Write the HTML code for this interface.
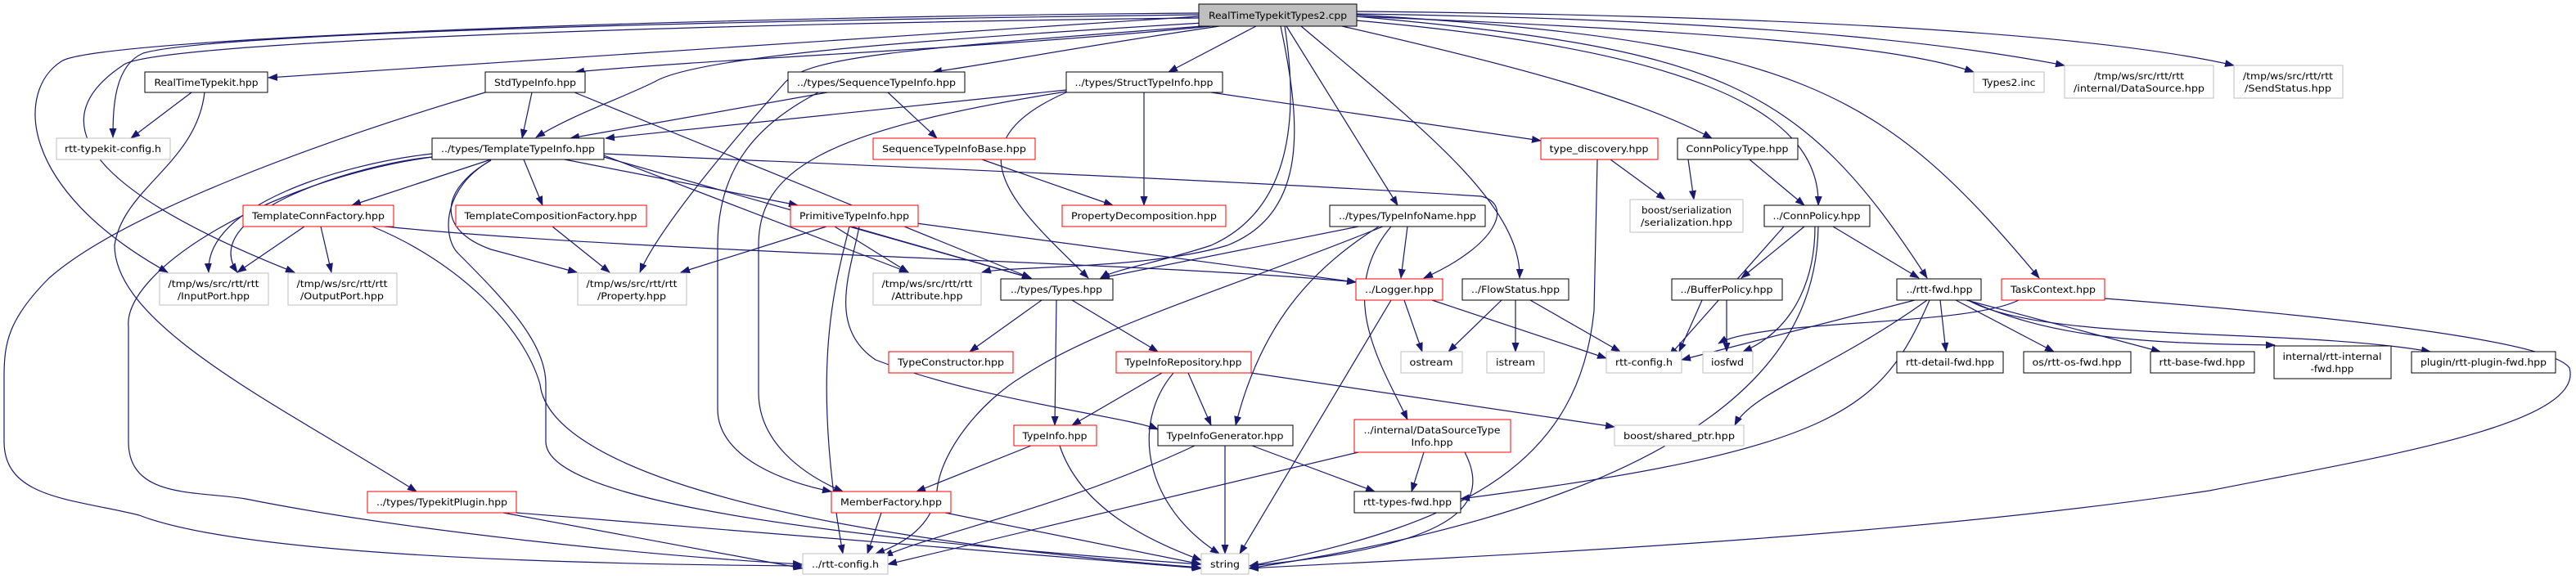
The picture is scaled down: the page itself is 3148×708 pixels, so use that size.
<!DOCTYPE html>
<html><head><meta charset="utf-8"><style>
html,body{margin:0;padding:0;background:#fff;width:3148px;height:708px;overflow:hidden}
svg{display:block}
text{font-family:"DejaVu Sans","Liberation Sans",sans-serif;font-size:11.5px;fill:#000}
.e{fill:none;stroke:#191970;stroke-width:1.2}
.b{fill:#fff;stroke:#000;stroke-width:1}
.r{fill:#fff;stroke:#ff0000;stroke-width:1}
.g{fill:#fff;stroke:#bfbfbf;stroke-width:1}
</style></head><body>
<svg width="3148" height="708" viewBox="0 0 3148 708" xmlns="http://www.w3.org/2000/svg">
<defs><marker id="a" markerWidth="12" markerHeight="9" refX="11" refY="4.5" orient="auto" markerUnits="userSpaceOnUse"><path d="M0,0 L12,4.5 L0,9 z" fill="#191970"/></marker></defs>
<g class="e" marker-end="url(#a)">
<path d="M1465,20 C1000,50 600,80 328,95"/>
<path d="M1480,32 C1200,60 900,70 703,88"/>
<path d="M1465,18 C900,25 260,40 175,65 C140,80 138,130 138,168"/>
<path d="M1470,28 C1100,50 850,70 800,100 C760,120 700,140 655,168"/>
<path d="M1465,16 C900,20 120,45 75,75 C20,110 20,230 205,333"/>
<path d="M1465,22 C900,28 180,50 150,80 C30,160 150,250 360,333"/>
<path d="M1490,32 C1300,60 1200,80 1140,88"/>
<path d="M1535,32 L1428,88"/>
<path d="M1470,32 C1100,60 990,70 960,100 C870,200 800,290 782,333"/>
<path d="M1565,32 C1590,150 1600,260 1500,300 C1400,330 1230,325 1200,333"/>
<path d="M1570,32 C1590,160 1570,260 1480,300 C1420,320 1360,330 1345,340"/>
<path d="M1572,32 L1708,251"/>
<path d="M1590,32 C1730,150 1860,250 1857,340"/>
<path d="M1640,32 C1850,80 2000,120 2092,169"/>
<path d="M1657,25 C2050,60 2225,130 2222,251"/>
<path d="M1657,20 C2100,60 2200,100 2355,340"/>
<path d="M1657,18 C2200,50 2300,110 2492,340"/>
<path d="M1657,20 C2150,40 2330,60 2412,88"/>
<path d="M1657,17 C2200,25 2420,60 2523,80"/>
<path d="M1657,14 C2300,20 2600,50 2730,80"/>
<path d="M234,113 L160,169"/>
<path d="M250,113 C240,200 150,230 140,300 C140,400 350,500 509,601"/>
<path d="M650,113 L638,169"/>
<path d="M702,113 L1260,340"/>
<path d="M593,113 C400,170 150,260 60,340 C10,390 5,420 5,460 L5,540 C5,610 90,610 170,630 C300,680 700,690 980,692"/>
<path d="M528,188 C420,200 250,250 255,333"/>
<path d="M528,192 C440,200 240,260 290,333"/>
<path d="M528,192 C330,220 150,330 157,400 L157,540 C157,610 240,600 300,610 C500,650 800,680 980,690"/>
<path d="M600,195 L430,251"/>
<path d="M640,195 L663,251"/>
<path d="M600,196 C540,230 540,290 560,310 C620,370 667,420 667,470 L667,540 C667,600 900,650 1467,690"/>
<path d="M600,196 C540,230 530,280 600,305 L705,333"/>
<path d="M690,195 L975,251"/>
<path d="M738,192 L1260,340"/>
<path d="M738,190 L1110,333"/>
<path d="M738,188 C1000,200 1500,220 1810,240 C1850,250 1830,300 1740,340"/>
<path d="M1011,113 L697,169"/>
<path d="M1085,113 L1145,169"/>
<path d="M1000,113 C930,150 877,200 877,300 L877,500 C877,560 960,590 1016,601"/>
<path d="M1303,110 L740,169"/>
<path d="M1398,113 L1398,251"/>
<path d="M1480,113 L1883,172"/>
<path d="M1303,112 C1000,160 927,210 927,300 L927,480 C927,540 980,580 1030,601"/>
<path d="M1303,113 C1150,180 1250,260 1330,340"/>
<path d="M1200,195 L1360,251"/>
<path d="M1968,195 L2035,244"/>
<path d="M1952,195 L1948,380 C1930,560 1800,640 1527,692"/>
<path d="M2063,195 L2070,244"/>
<path d="M2138,195 L2205,251"/>
<path d="M372,277 L290,333"/>
<path d="M392,277 L405,333"/>
<path d="M470,277 C800,310 1400,320 1657,345"/>
<path d="M455,277 C560,320 640,400 660,470 C670,560 900,650 1467,694"/>
<path d="M675,277 L745,333"/>
<path d="M1010,277 L832,333"/>
<path d="M1020,277 L1110,333"/>
<path d="M1040,277 L1260,340"/>
<path d="M1120,273 L1657,345"/>
<path d="M1038,277 C1020,350 990,450 1030,677"/>
<path d="M1050,277 C1040,330 1010,400 1070,440 C1200,490 1380,510 1415,525"/>
<path d="M1660,277 L1345,340"/>
<path d="M1720,277 L1712,340"/>
<path d="M1685,277 C1600,330 1540,400 1510,520"/>
<path d="M1700,277 C1630,360 1690,450 1720,513"/>
<path d="M1690,277 C1510,350 1340,400 1250,460 C1200,490 1150,550 1145,600 C1140,650 1090,670 1070,677"/>
<path d="M1273,367 L1185,430"/>
<path d="M1291,367 L1289,520"/>
<path d="M1310,367 L1415,430"/>
<path d="M1716,367 L1738,430"/>
<path d="M1750,367 L1963,438"/>
<path d="M1700,367 L1515,677"/>
<path d="M1835,367 L1770,430"/>
<path d="M1852,367 L1852,430"/>
<path d="M1870,367 L1980,430"/>
<path d="M2180,277 L2040,435"/>
<path d="M2205,277 L2128,340"/>
<path d="M2218,277 C2218,330 2200,400 2130,430"/>
<path d="M2240,277 L2345,340"/>
<path d="M2222,277 C2220,400 2150,600 1526,695"/>
<path d="M2080,367 L2052,430"/>
<path d="M2110,367 L2110,430"/>
<path d="M2340,367 L2055,440"/>
<path d="M2355,367 C2240,450 2140,480 2120,520"/>
<path d="M2358,367 C2300,500 2250,550 1785,610"/>
<path d="M2371,367 L2378,430"/>
<path d="M2390,367 L2510,430"/>
<path d="M2403,367 L2640,430"/>
<path d="M2405,367 C2500,410 2600,420 2780,422"/>
<path d="M2405,367 C2500,420 2800,400 2970,430"/>
<path d="M2467,367 C2400,400 2150,390 2100,420"/>
<path d="M2572,365 C2900,390 3120,420 3140,450 C3160,520 2900,560 2700,600 C2300,660 1800,680 1527,695"/>
<path d="M1420,456 L1310,520"/>
<path d="M1452,456 L1480,520"/>
<path d="M1434,456 C1380,520 1400,620 1490,677"/>
<path d="M1529,456 L1973,522"/>
<path d="M1260,545 L1120,601"/>
<path d="M1295,545 C1320,620 1400,660 1468,685"/>
<path d="M1460,545 C1300,620 1150,650 1080,680"/>
<path d="M1497,545 L1497,677"/>
<path d="M1530,545 L1680,601"/>
<path d="M1740,553 L1725,601"/>
<path d="M1660,553 L1085,690"/>
<path d="M1790,553 C1830,630 1750,670 1527,692"/>
<path d="M1077,627 L1060,677"/>
<path d="M1155,627 L1468,690"/>
<path d="M615,627 L981,695"/>
<path d="M631,627 L1468,695"/>
</g>
<g>
<rect class="b" x="1465" y="5" width="193" height="27" style="fill:#bfbfbf"/>
<text x="1561.5" y="23" text-anchor="middle" textLength="169" lengthAdjust="spacingAndGlyphs">RealTimeTypekitTypes2.cpp</text>
<rect class="b" x="177" y="88" width="150" height="25"/><text x="252" y="105" text-anchor="middle" textLength="127" lengthAdjust="spacingAndGlyphs">RealTimeTypekit.hpp</text>
<rect class="b" x="593" y="88" width="122" height="25"/><text x="654" y="105" text-anchor="middle" textLength="100" lengthAdjust="spacingAndGlyphs">StdTypeInfo.hpp</text>
<rect class="b" x="963" y="88" width="216" height="25"/><text x="1071" y="105" text-anchor="middle" textLength="194" lengthAdjust="spacingAndGlyphs">../types/SequenceTypeInfo.hpp</text>
<rect class="b" x="1303" y="88" width="191" height="25"/><text x="1398" y="105" text-anchor="middle" textLength="169" lengthAdjust="spacingAndGlyphs">../types/StructTypeInfo.hpp</text>
<rect class="g" x="2412" y="88" width="86" height="25"/><text x="2455" y="105" text-anchor="middle" textLength="65" lengthAdjust="spacingAndGlyphs">Types2.inc</text>
<rect class="g" x="2523" y="80" width="182" height="40"/><text x="2614" y="97" text-anchor="middle" textLength="110" lengthAdjust="spacingAndGlyphs">/tmp/ws/src/rtt/rtt</text><text x="2614" y="112" text-anchor="middle" textLength="160" lengthAdjust="spacingAndGlyphs">/internal/DataSource.hpp</text>
<rect class="g" x="2730" y="80" width="133" height="40"/><text x="2796" y="97" text-anchor="middle" textLength="110" lengthAdjust="spacingAndGlyphs">/tmp/ws/src/rtt/rtt</text><text x="2796" y="112" text-anchor="middle" textLength="106" lengthAdjust="spacingAndGlyphs">/SendStatus.hpp</text>
<rect class="g" x="69" y="169" width="139" height="26"/><text x="138" y="186" text-anchor="middle" textLength="118" lengthAdjust="spacingAndGlyphs">rtt-typekit-config.h</text>
<rect class="b" x="528" y="169" width="210" height="26"/><text x="633" y="186" text-anchor="middle" textLength="188" lengthAdjust="spacingAndGlyphs">../types/TemplateTypeInfo.hpp</text>
<rect class="r" x="1067" y="169" width="198" height="26"/><text x="1166" y="186" text-anchor="middle" textLength="176" lengthAdjust="spacingAndGlyphs">SequenceTypeInfoBase.hpp</text>
<rect class="r" x="1883" y="169" width="143" height="26"/><text x="1954" y="186" text-anchor="middle" textLength="121" lengthAdjust="spacingAndGlyphs">type_discovery.hpp</text>
<rect class="b" x="2050" y="169" width="147" height="26"/><text x="2123" y="186" text-anchor="middle" textLength="125" lengthAdjust="spacingAndGlyphs">ConnPolicyType.hpp</text>
<rect class="g" x="1992" y="244" width="138" height="40"/><text x="2061" y="261" text-anchor="middle" textLength="110" lengthAdjust="spacingAndGlyphs">boost/serialization</text><text x="2061" y="276" text-anchor="middle" textLength="112" lengthAdjust="spacingAndGlyphs">/serialization.hpp</text>
<rect class="r" x="297" y="251" width="184" height="26"/><text x="389" y="268" text-anchor="middle" textLength="162" lengthAdjust="spacingAndGlyphs">TemplateConnFactory.hpp</text>
<rect class="r" x="557" y="251" width="233" height="26"/><text x="673" y="268" text-anchor="middle" textLength="211" lengthAdjust="spacingAndGlyphs">TemplateCompositionFactory.hpp</text>
<rect class="r" x="966" y="251" width="156" height="26"/><text x="1044" y="268" text-anchor="middle" textLength="134" lengthAdjust="spacingAndGlyphs">PrimitiveTypeInfo.hpp</text>
<rect class="r" x="1298" y="251" width="200" height="26"/><text x="1398" y="268" text-anchor="middle" textLength="178" lengthAdjust="spacingAndGlyphs">PropertyDecomposition.hpp</text>
<rect class="b" x="1625" y="251" width="190" height="26"/><text x="1720" y="268" text-anchor="middle" textLength="168" lengthAdjust="spacingAndGlyphs">../types/TypeInfoName.hpp</text>
<rect class="b" x="2156" y="251" width="129" height="26"/><text x="2220" y="268" text-anchor="middle" textLength="107" lengthAdjust="spacingAndGlyphs">../ConnPolicy.hpp</text>
<rect class="g" x="195" y="334" width="133" height="39"/><text x="261" y="351" text-anchor="middle" textLength="111" lengthAdjust="spacingAndGlyphs">/tmp/ws/src/rtt/rtt</text><text x="261" y="366" text-anchor="middle" textLength="88" lengthAdjust="spacingAndGlyphs">/InputPort.hpp</text>
<rect class="g" x="352" y="334" width="133" height="39"/><text x="418" y="351" text-anchor="middle" textLength="111" lengthAdjust="spacingAndGlyphs">/tmp/ws/src/rtt/rtt</text><text x="418" y="366" text-anchor="middle" textLength="102" lengthAdjust="spacingAndGlyphs">/OutputPort.hpp</text>
<rect class="g" x="706" y="334" width="133" height="39"/><text x="772" y="351" text-anchor="middle" textLength="111" lengthAdjust="spacingAndGlyphs">/tmp/ws/src/rtt/rtt</text><text x="772" y="366" text-anchor="middle" textLength="84" lengthAdjust="spacingAndGlyphs">/Property.hpp</text>
<rect class="g" x="1067" y="334" width="132" height="39"/><text x="1133" y="351" text-anchor="middle" textLength="111" lengthAdjust="spacingAndGlyphs">/tmp/ws/src/rtt/rtt</text><text x="1133" y="366" text-anchor="middle" textLength="87" lengthAdjust="spacingAndGlyphs">/Attribute.hpp</text>
<rect class="b" x="1223" y="341" width="137" height="26"/><text x="1291" y="358" text-anchor="middle" textLength="112" lengthAdjust="spacingAndGlyphs">../types/Types.hpp</text>
<rect class="r" x="1657" y="341" width="106" height="26"/><text x="1710" y="358" text-anchor="middle" textLength="84" lengthAdjust="spacingAndGlyphs">../Logger.hpp</text>
<rect class="b" x="1787" y="341" width="130" height="26"/><text x="1852" y="358" text-anchor="middle" textLength="108" lengthAdjust="spacingAndGlyphs">../FlowStatus.hpp</text>
<rect class="b" x="2043" y="341" width="135" height="26"/><text x="2110" y="358" text-anchor="middle" textLength="113" lengthAdjust="spacingAndGlyphs">../BufferPolicy.hpp</text>
<rect class="b" x="2318" y="341" width="103" height="26"/><text x="2370" y="358" text-anchor="middle" textLength="81" lengthAdjust="spacingAndGlyphs">../rtt-fwd.hpp</text>
<rect class="r" x="2446" y="341" width="126" height="26"/><text x="2509" y="358" text-anchor="middle" textLength="104" lengthAdjust="spacingAndGlyphs">TaskContext.hpp</text>
<rect class="r" x="1086" y="430" width="152" height="26"/><text x="1162" y="447" text-anchor="middle" textLength="130" lengthAdjust="spacingAndGlyphs">TypeConstructor.hpp</text>
<rect class="r" x="1364" y="430" width="165" height="26"/><text x="1446" y="447" text-anchor="middle" textLength="143" lengthAdjust="spacingAndGlyphs">TypeInfoRepository.hpp</text>
<rect class="g" x="1712" y="430" width="75" height="26"/><text x="1749" y="447" text-anchor="middle" textLength="53" lengthAdjust="spacingAndGlyphs">ostream</text>
<rect class="g" x="1817" y="430" width="70" height="26"/><text x="1852" y="447" text-anchor="middle" textLength="48" lengthAdjust="spacingAndGlyphs">istream</text>
<rect class="g" x="1963" y="430" width="92" height="26"/><text x="2009" y="447" text-anchor="middle" textLength="70" lengthAdjust="spacingAndGlyphs">rtt-config.h</text>
<rect class="g" x="2081" y="430" width="61" height="26"/><text x="2111" y="447" text-anchor="middle" textLength="40" lengthAdjust="spacingAndGlyphs">iosfwd</text>
<rect class="b" x="2318" y="430" width="130" height="26"/><text x="2383" y="447" text-anchor="middle" textLength="108" lengthAdjust="spacingAndGlyphs">rtt-detail-fwd.hpp</text>
<rect class="b" x="2473" y="430" width="131" height="26"/><text x="2538" y="447" text-anchor="middle" textLength="109" lengthAdjust="spacingAndGlyphs">os/rtt-os-fwd.hpp</text>
<rect class="b" x="2628" y="430" width="127" height="26"/><text x="2691" y="447" text-anchor="middle" textLength="105" lengthAdjust="spacingAndGlyphs">rtt-base-fwd.hpp</text>
<rect class="b" x="2779" y="423" width="143" height="40"/><text x="2850" y="440" text-anchor="middle" textLength="121" lengthAdjust="spacingAndGlyphs">internal/rtt-internal</text><text x="2850" y="455" text-anchor="middle" textLength="53" lengthAdjust="spacingAndGlyphs">-fwd.hpp</text>
<rect class="b" x="2947" y="430" width="176" height="26"/><text x="3035" y="447" text-anchor="middle" textLength="154" lengthAdjust="spacingAndGlyphs">plugin/rtt-plugin-fwd.hpp</text>
<rect class="r" x="1239" y="520" width="101" height="25"/><text x="1289" y="537" text-anchor="middle" textLength="79" lengthAdjust="spacingAndGlyphs">TypeInfo.hpp</text>
<rect class="b" x="1415" y="520" width="165" height="25"/><text x="1497" y="537" text-anchor="middle" textLength="143" lengthAdjust="spacingAndGlyphs">TypeInfoGenerator.hpp</text>
<rect class="r" x="1655" y="513" width="191" height="40"/><text x="1750" y="530" text-anchor="middle" textLength="167" lengthAdjust="spacingAndGlyphs">../internal/DataSourceType</text><text x="1750" y="545" text-anchor="middle" textLength="51" lengthAdjust="spacingAndGlyphs">Info.hpp</text>
<rect class="g" x="1973" y="520" width="158" height="25"/><text x="2052" y="537" text-anchor="middle" textLength="136" lengthAdjust="spacingAndGlyphs">boost/shared_ptr.hpp</text>
<rect class="r" x="449" y="601" width="182" height="26"/><text x="540" y="618" text-anchor="middle" textLength="160" lengthAdjust="spacingAndGlyphs">../types/TypekitPlugin.hpp</text>
<rect class="r" x="1016" y="601" width="146" height="26"/><text x="1089" y="618" text-anchor="middle" textLength="124" lengthAdjust="spacingAndGlyphs">MemberFactory.hpp</text>
<rect class="b" x="1655" y="601" width="130" height="26"/><text x="1720" y="618" text-anchor="middle" textLength="108" lengthAdjust="spacingAndGlyphs">rtt-types-fwd.hpp</text>
<rect class="g" x="981" y="677" width="104" height="25"/><text x="1033" y="694" text-anchor="middle" textLength="82" lengthAdjust="spacingAndGlyphs">../rtt-config.h</text>
<rect class="g" x="1468" y="677" width="58" height="25"/><text x="1497" y="694" text-anchor="middle" textLength="36" lengthAdjust="spacingAndGlyphs">string</text>
</g>
</svg>
</body></html>
